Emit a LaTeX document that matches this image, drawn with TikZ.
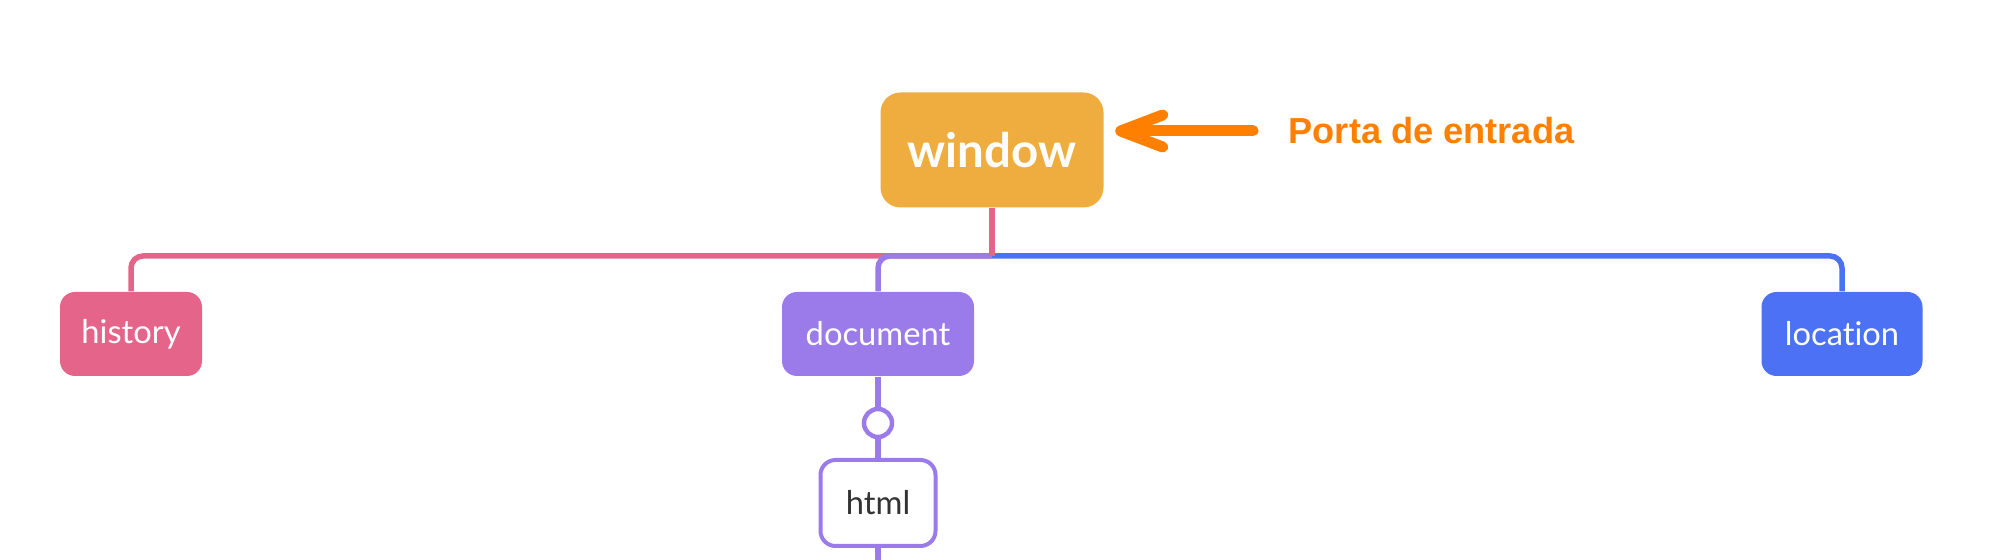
\documentclass[tikz,border=0pt]{standalone}
\usepackage{fontspec}
\setmainfont{Lato}[Ligatures=NoCommon]
\newfontfamily\notefont{Liberation Sans}
\usetikzlibrary{arrows.meta,positioning,calc}
\definecolor{winyellow}{HTML}{EFAD3F}
\definecolor{histpink}{HTML}{E5658A}
\definecolor{docpurple}{HTML}{9B7BEA}
\definecolor{locblue}{HTML}{4C71F5}
\definecolor{noteorange}{HTML}{FF7F00}
\definecolor{htmltext}{HTML}{333333}

\begin{document}
\begin{tikzpicture}[x=0.1mm,y=-0.1mm,
  topic/.style={rounded corners=1.5mm, text=white, minimum height=8.4mm, inner sep=0pt,
    font=\fontsize{9.3}{11}\selectfont},
  branch/.style={line width=0.55mm, rounded corners=1.2mm}]
\useasboundingbox (0,0) rectangle (2000,560);
% root and its children
\node[topic, fill=winyellow, minimum width=22.3mm, minimum height=11.5mm, rounded corners=2mm,
  font=\bfseries\fontsize{13.5}{16}\selectfont] (window) at (992,150) {window};
\node[topic, fill=histpink, minimum width=14.2mm] (history) at (131,334) {history};
\node[topic, fill=docpurple, minimum width=19.2mm] (document) at (878,334) {document};
\node[topic, fill=locblue, minimum width=16.1mm] (location) at (1842,334) {location};
\node[circle, draw=docpurple, line width=0.45mm, fill=white, minimum size=2.8mm, inner sep=0pt] (knob) at (878,423) {};
\node[topic, draw=docpurple, line width=0.4mm, fill=white, text=htmltext,
  minimum width=11.5mm, minimum height=8.6mm] (html) at (878,503) {html};
\coordinate (hub) at (992,256);
\coordinate (below) at (878,575);
% branches
\draw[branch, histpink] (hub) -| (history.north);
\draw[branch, locblue] (hub) -| (location.north);
\draw[branch, docpurple] (hub) -| (document.north);
\draw[branch, histpink, rounded corners=0pt] (window.south) -- (hub);
\draw[branch, docpurple] (document.south) -- (knob);
\draw[branch, docpurple] (knob) -- (html.north);
\draw[branch, docpurple] (html.south) -- (below);
% note
\node[font=\notefont\bfseries\fontsize{10.3}{12}\selectfont, text=noteorange, anchor=west, inner sep=0pt]
  (entry) at (1288,131) {Porta de entrada};
\draw[noteorange, line width=1.1mm, line cap=round, -{Straight Barb[length=4.2mm,width=3.2mm,round]},
  shorten <=3.5mm, shorten >=1.1mm] (entry.west) -- (entry.west -| window.east);
\end{tikzpicture}
\end{document}
